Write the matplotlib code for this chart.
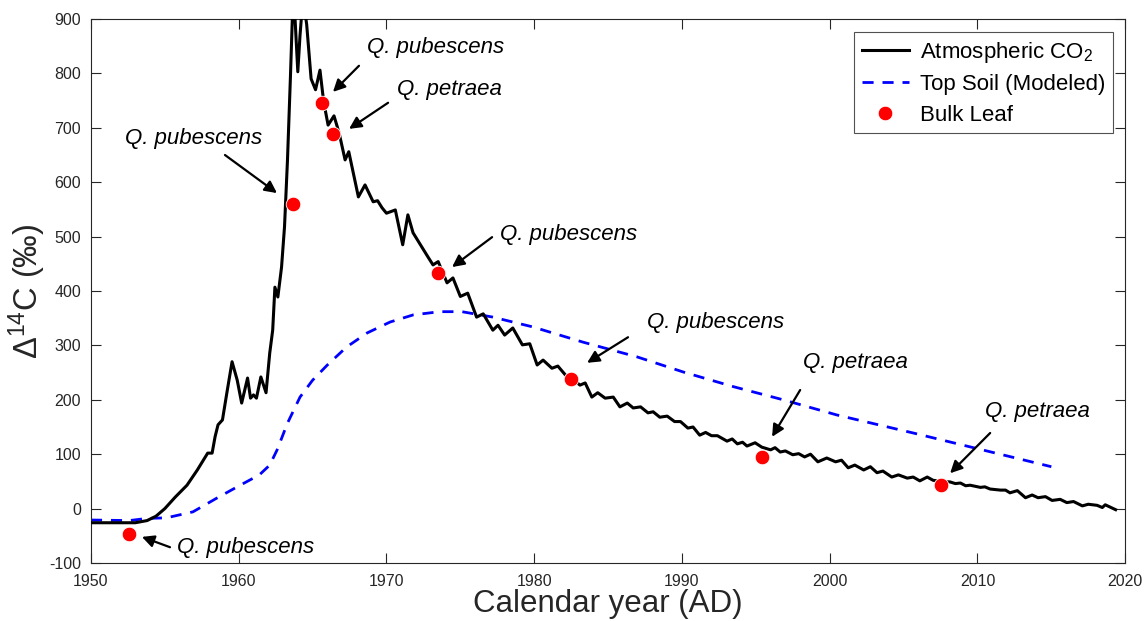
import numpy as np
import matplotlib
matplotlib.use('Agg')
import matplotlib.pyplot as plt

plt.rcParams['font.family'] = ['Liberation Sans', 'DejaVu Sans']
plt.rcParams['mathtext.fontset'] = 'custom'
plt.rcParams['mathtext.rm'] = 'Liberation Sans'
plt.rcParams['mathtext.it'] = 'Liberation Sans:italic'
plt.rcParams['axes.unicode_minus'] = False

# atmospheric CO2
atm_year = [1950.0, 1953.0, 1953.8, 1954.4, 1955.0, 1955.7, 1956.5, 1957.2, 1957.9, 1958.2,
            1958.4, 1958.6, 1958.9, 1959.2, 1959.55, 1959.9, 1960.2, 1960.6, 1960.8, 1961.0,
            1961.2, 1961.5, 1961.85, 1962.1, 1962.3, 1962.45, 1962.65, 1962.9, 1963.1, 1963.3,
            1963.5, 1963.7, 1963.85, 1964.0, 1964.15, 1964.35, 1964.6, 1964.9, 1965.2, 1965.5,
            1965.75, 1966.05, 1966.45, 1966.8, 1967.2, 1967.45, 1968.1, 1968.55, 1969.1, 1969.4,
            1969.7, 1970.0, 1970.6, 1971.1, 1971.45, 1971.8, 1972.3, 1972.8, 1973.15, 1973.5,
            1974.1, 1974.5, 1975.0, 1975.5, 1976.1, 1976.55, 1977.2, 1977.55, 1978.0, 1978.55,
            1979.2, 1979.7, 1980.2, 1980.6, 1981.2, 1981.6, 1982.1, 1982.5, 1983.1, 1983.45,
            1983.9, 1984.3, 1984.8, 1985.35, 1985.8, 1986.3, 1986.7, 1987.2, 1987.7, 1988.05,
            1988.5, 1989.0, 1989.5, 1989.9, 1990.4, 1990.75, 1991.2, 1991.6, 1992.0, 1992.4,
            1993.05, 1993.4, 1993.75, 1994.1, 1994.4, 1994.95, 1995.4, 1996.0, 1996.3, 1996.65,
            1997.0, 1997.5, 1997.9, 1998.3, 1998.7, 1999.2, 1999.8, 2000.4, 2000.8, 2001.25,
            2001.7, 2002.3, 2002.75, 2003.2, 2003.6, 2004.2, 2004.65, 2005.25, 2005.65, 2006.1,
            2006.6, 2007.0, 2007.6, 2008.15, 2008.5, 2008.85, 2009.2, 2009.5, 2010.2, 2010.5,
            2010.85, 2011.55, 2011.9, 2012.2, 2012.7, 2013.25, 2013.7, 2014.1, 2014.6, 2015.05,
            2015.6, 2016.05, 2016.5, 2017.1, 2017.5, 2018.1, 2018.45, 2018.65, 2019.35]
atm_val = [-26, -26, -22, -14, 0, 21, 43, 71, 102, 102,
           132, 154, 163, 213, 270, 236, 194, 240, 203, 209,
           203, 242, 213, 286, 328, 407, 389, 444, 518, 640,
           793, 960, 880, 803, 870, 940, 890, 790, 770, 806,
           748, 705, 722, 690, 641, 656, 573, 595, 564, 566,
           553, 543, 549, 485, 540, 507, 485, 463, 448, 454,
           415, 424, 390, 396, 352, 358, 328, 337, 319, 332,
           301, 303, 264, 273, 258, 262, 246, 240, 227, 231,
           205, 213, 203, 205, 187, 194, 185, 187, 176, 178,
           168, 170, 160, 160, 148, 150, 135, 140, 134, 134,
           124, 128, 119, 122, 115, 121, 113, 108, 112, 104,
           106, 99, 101, 95, 100, 86, 93, 86, 89, 75,
           80, 71, 77, 66, 69, 58, 62, 56, 58, 51,
           58, 52, 50, 49, 46, 47, 42, 43, 39, 40,
           36, 34, 34, 29, 33, 20, 25, 20, 22, 15,
           17, 11, 13, 5, 8, 6, 2, 7, -2]

# modeled top soil
soil_year = [1950.0, 1952.6, 1953.8, 1955.1, 1956.9, 1958.5, 1960.1, 1961.4, 1962.1, 1962.6,
             1963.3, 1964.15, 1965.0, 1966.0, 1967.3, 1968.7, 1970.25, 1971.8, 1973.6, 1975.1,
             1977.2, 1979.9, 1983.3, 1986.95, 1990.1, 1993.5, 1996.85, 2000.5, 2005.65, 2015.0]
soil_val = [-21, -22, -18, -17, -6, 19, 43, 62, 80, 108,
            157, 205, 236, 264, 297, 323, 343, 356, 362, 362,
            352, 334, 306, 279, 251, 224, 200, 172, 139, 77]

# bulk leaf samples
leaf_year = [1952.57, 1963.68, 1965.64, 1966.39, 1973.5, 1982.5, 1995.43, 2007.55]
leaf_val = [-47, 560, 746, 689, 433, 238, 95, 44]

# annotations: label, text pos, arrow tail, arrow tip
labels = ['Q. pubescens', 'Q. pubescens', 'Q. pubescens', 'Q. petraea',
          'Q. pubescens', 'Q. pubescens', 'Q. petraea', 'Q. petraea']
text_pos = [(1955.82, -72), (1952.3, 681), (1968.69, 847), (1970.72, 770),
            (1977.69, 503), (1987.64, 343), (1998.2, 268), (2010.52, 178)]
arrow_tail = [(1955.35, -71), (1959.07, 650), (1968.14, 814), (1970.11, 746),
              (1977.15, 499), (1986.35, 315), (1998.0, 218), (2010.86, 139)]
arrow_tip = [(1953.45, -52), (1962.59, 580), (1966.38, 766), (1967.47, 698),
             (1974.44, 444), (1983.58, 268), (1996.1, 132), (2008.15, 65)]

fig = plt.figure(figsize=(11.47, 6.21), dpi=100)
ax = fig.add_axes([0.0793, 0.0934, 0.9017, 0.876])

ax.plot(atm_year, atm_val, color='black', lw=2.2, label='Atmospheric CO$_2$', zorder=3)
ax.plot(soil_year, soil_val, color='blue', lw=2.0, ls=(0, (4, 3.2)), label='Top Soil (Modeled)', zorder=2)
ax.plot(leaf_year, leaf_val, 'o', color='red', ms=10.5, mec='white', mew=0.6, label='Bulk Leaf', zorder=4)

for lab, tp, tail, tip in zip(labels, text_pos, arrow_tail, arrow_tip):
    ax.text(tp[0], tp[1], lab, fontsize=16, style='italic', ha='left', va='center')
    ax.annotate('', xy=tip, xytext=tail,
                arrowprops=dict(arrowstyle='-|>', color='black', lw=1.6,
                                mutation_scale=18, shrinkA=0, shrinkB=0))

ax.set_xlim(1950, 2020)
ax.set_ylim(-100, 900)
ax.set_xticks(np.arange(1950, 2021, 10))
ax.set_yticks(np.arange(-100, 901, 100))
ax.tick_params(direction='in', top=True, right=True, length=7, width=0.8,
               labelsize=11.5, colors='#262626', labelcolor='#262626')
ax.tick_params(axis='x', pad=8)
ax.tick_params(axis='y', pad=7)
for s in ax.spines.values():
    s.set_color('#262626')
    s.set_linewidth(0.8)

ax.set_xlabel('Calendar year (AD)', fontsize=22.5, color='#262626', labelpad=0)
ax.set_ylabel(r'$\Delta^{14}$C (‰)', fontsize=23.5, color='#262626', labelpad=1)

leg = ax.legend(loc='upper right', bbox_to_anchor=(0.988, 0.976), fontsize=16,
                handlelength=2.1, fancybox=False, edgecolor='#262626',
                borderpad=0.35, labelspacing=0.42, handletextpad=0.5, borderaxespad=0)
leg.get_frame().set_linewidth(0.8)

fig.savefig('out.png', dpi=100)
